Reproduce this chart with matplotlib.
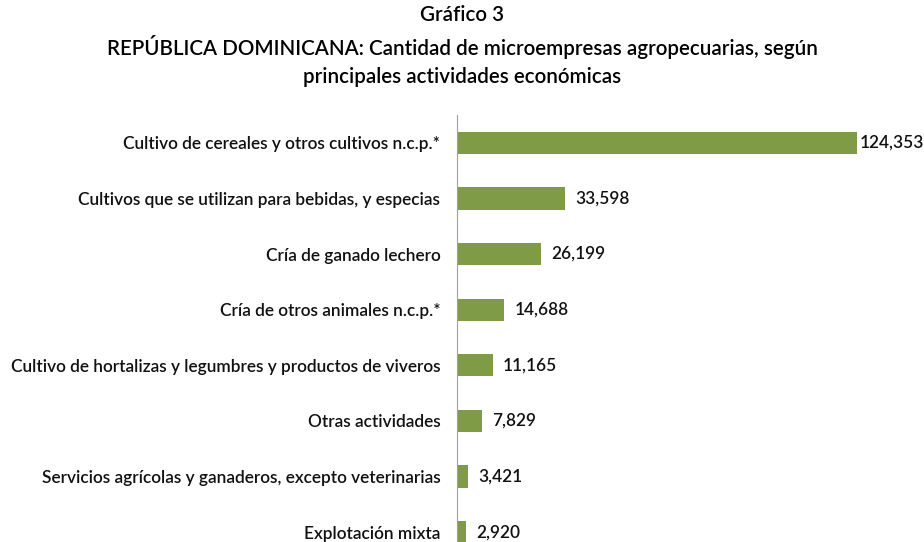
import matplotlib.pyplot as plt

actividades = [
    "Cultivo de cereales y otros cultivos n.c.p.*",
    "Cultivos que se utilizan para bebidas, y especias",
    "Cría de ganado lechero",
    "Cría de otros animales n.c.p.*",
    "Cultivo de hortalizas y legumbres y productos de viveros",
    "Otras actividades",
    "Servicios agrícolas y ganaderos, excepto veterinarias",
    "Explotación mixta",
]
cantidad = [124353, 33598, 26199, 14688, 11165, 7829, 3421, 2920]

plt.rcParams['font.family'] = ['Lato', 'DejaVu Sans']
peso = 'semibold'

fig = plt.figure(figsize=(9.24, 5.42), dpi=100)
ax = fig.add_axes([0.4946, -0.0332, 0.487, 0.821])

pos = list(range(len(actividades)))
ax.barh(pos, cantidad, height=0.4, color='#7f9b45')
ax.set_ylim(len(actividades) - 0.5, -0.5)
ax.set_xlim(0, 140000)
ax.set_yticks(pos)
ax.set_yticklabels(actividades, fontsize=12.4, color='#111111', fontweight=peso)
ax.tick_params(axis='y', length=0, pad=12)
ax.set_xticks([])
for s in ['top', 'right', 'bottom']:
    ax.spines[s].set_visible(False)
ax.spines['left'].set_color('#a0a0a0')

for p, v in zip(pos, cantidad):
    off = 3 if v > 100000 else 10
    ax.annotate(f"{v:,}", (v, p), xytext=(off, 0), textcoords='offset pixels',
                va='center', ha='left', fontsize=12.4, color='#111111', fontweight=peso)

fig.text(0.5, 0.972, "Gráfico 3", ha='center', va='center', fontsize=14.8, fontweight=peso)
fig.text(0.5, 0.913, "REPÚBLICA DOMINICANA: Cantidad de microempresas agropecuarias, según",
         ha='center', va='center', fontsize=14.8, fontweight=peso)
fig.text(0.5, 0.858, "principales actividades económicas", ha='center', va='center',
         fontsize=14.8, fontweight=peso)

fig.savefig("out.png", dpi=100)
